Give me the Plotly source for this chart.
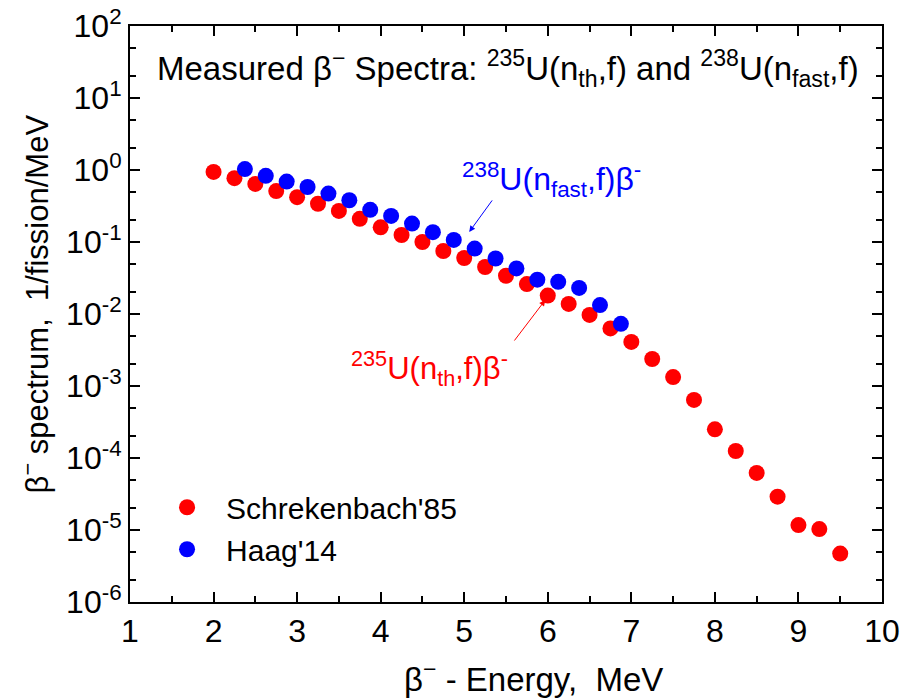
import plotly.graph_objects as go

# Schrekenbach'85 (235U thermal)
red_x = [2.0, 2.25, 2.5, 2.75, 3.0, 3.25, 3.5, 3.75, 4.0, 4.25, 4.5, 4.75, 5.0, 5.25, 5.5, 5.75,
         6.0, 6.25, 6.5, 6.75, 7.0, 7.25, 7.5, 7.75, 8.0, 8.25, 8.5, 8.75, 9.0, 9.25, 9.5]
red_y = [0.94, 0.77, 0.64, 0.51, 0.42, 0.34, 0.27, 0.21, 0.16, 0.125, 0.10, 0.075, 0.060, 0.045,
         0.034, 0.026, 0.018, 0.0138, 0.0097, 0.0063, 0.0041, 0.00237, 0.00133, 6.4e-4, 2.5e-4,
         1.25e-4, 6.2e-5, 2.9e-5, 1.17e-5, 1.03e-5, 4.7e-6]

# Haag'14 (238U fast)
blue_x = [2.375, 2.625, 2.875, 3.125, 3.375, 3.625, 3.875, 4.125, 4.375, 4.625, 4.875, 5.125,
          5.375, 5.625, 5.875, 6.125, 6.375, 6.625, 6.875]
blue_y = [1.03, 0.83, 0.69, 0.58, 0.47, 0.38, 0.28, 0.23, 0.18, 0.137, 0.107, 0.081, 0.059,
          0.043, 0.030, 0.028, 0.023, 0.0133, 0.0073]
blue_err = [0, 0, 0, 0, 0, 0, 0, 0, 0, 0, 0, 0, 0, 0, 0, 0, 0, 0.0012, 0.0012]

x_ticks = [1, 2, 3, 4, 5, 6, 7, 8, 9, 10]
y_exps = [-6, -5, -4, -3, -2, -1, 0, 1, 2]

FONT = "Liberation Sans, Arial, sans-serif"
RED = "#ff0000"
BLUE = "#0000ff"

fig = go.Figure()
fig.add_trace(go.Scatter(x=red_x, y=red_y, mode="markers", name="Schrekenbach'85",
                         marker=dict(color=RED, size=16, line=dict(width=0))))
fig.add_trace(go.Scatter(x=blue_x, y=blue_y, mode="markers", name="Haag'14",
                         error_y=dict(type="data", array=blue_err, color=BLUE, thickness=1.5, width=3),
                         marker=dict(color=BLUE, size=16, line=dict(width=0))))

axis_common = dict(showline=True, linecolor="black", linewidth=2, mirror="allticks",
                   ticks="inside", ticklen=10, tickwidth=1.5, tickcolor="black",
                   showgrid=False, zeroline=False, automargin=False,
                   tickfont=dict(family=FONT, size=32, color="black"))

fig.update_xaxes(range=[1, 10], tickvals=x_ticks, ticktext=[str(v) for v in x_ticks],
                 minor=dict(ticks="inside", ticklen=6, tickwidth=1.5, dtick=0.5, tick0=1, tickcolor="black"),
                 **axis_common)
fig.update_yaxes(type="log", range=[-6, 2], tickvals=[10 ** e for e in y_exps],
                 ticktext=["10<sup>%d</sup>" % e for e in y_exps],
                 minor=dict(ticks="inside", ticklen=6, tickwidth=1.5, tickcolor="black", showgrid=False),
                 **axis_common)

# axis titles
fig.add_annotation(xref="paper", yref="paper", x=0.536, y=-0.131, xanchor="center", yanchor="middle",
                   showarrow=False, text="β<sup>−</sup> - Energy,\u00a0\u00a0MeV",
                   font=dict(family=FONT, size=33, color="black"))
fig.add_annotation(xref="paper", yref="paper", x=-0.126, y=0.517, xanchor="center", yanchor="middle",
                   showarrow=False, textangle=-90, text="β<sup>−</sup> spectrum,\u00a0\u00a01/fission/MeV",
                   font=dict(family=FONT, size=31, color="black"))

fig.add_annotation(xref="paper", yref="paper", x=0.502, y=0.927, xanchor="center", yanchor="middle",
                   showarrow=False,
                   text="Measured β<sup>−</sup> Spectra: <sup>235</sup>U(n<sub>th</sub>,f) and <sup>238</sup>U(n<sub>fast</sub>,f)",
                   font=dict(family=FONT, size=33, color="black"))

fig.add_annotation(x=5.06, y=-0.86, xref="x", yref="y", text="", showarrow=True,
                   ax=24, ay=-33, arrowhead=2, arrowsize=1.2, arrowwidth=1, arrowcolor=BLUE)
fig.add_annotation(x=5.97, y=-1.806, xref="x", yref="y", text="", showarrow=True,
                   ax=-32, ay=42, arrowhead=2, arrowsize=1.2, arrowwidth=1, arrowcolor=RED)

fig.add_annotation(x=4.952, y=-0.133, xref="x", yref="y", xanchor="left", yanchor="middle", showarrow=False,
                   text="<sup>238</sup>U(n<sub>fast</sub>,f)β<sup>-</sup>",
                   font=dict(family=FONT, size=32, color=BLUE))
fig.add_annotation(x=3.616, y=-2.763, xref="x", yref="y", xanchor="left", yanchor="middle", showarrow=False,
                   text="<sup>235</sup>U(n<sub>th</sub>,f)β<sup>-</sup>",
                   font=dict(family=FONT, size=31, color=RED))

fig.update_layout(
    width=901, height=698,
    margin=dict(l=130, r=19, t=26, b=96, autoexpand=False),
    paper_bgcolor="white", plot_bgcolor="white",
    font=dict(family=FONT, color="black"),
    showlegend=True,
    legend=dict(x=0.024, y=0.128, xanchor="left", yanchor="middle", bgcolor="rgba(0,0,0,0)",
                font=dict(family=FONT, size=30, color="black"), itemsizing="trace",
                itemwidth=68, tracegroupgap=0),
)

fig.write_html("out.html", config={"displayModeBar": False},
               post_script="document.body.style.margin='0px';")
